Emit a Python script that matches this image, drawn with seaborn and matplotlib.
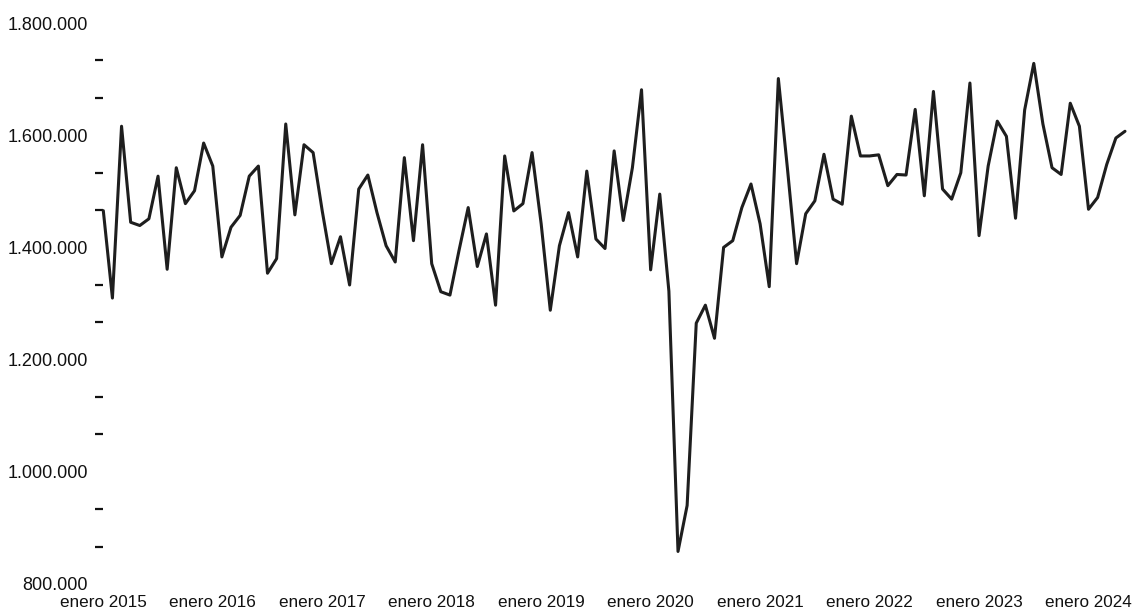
import numpy as np
import pandas as pd
import matplotlib
matplotlib.use("Agg")
import matplotlib.pyplot as plt
from matplotlib.ticker import FixedLocator, FuncFormatter
import seaborn as sns

# Monthly values, Jan 2015 - May 2024
v2015 = [1465500, 1309700, 1616000, 1444800, 1439000, 1451000,
         1527000, 1361000, 1542000, 1478000, 1501000, 1586000]
v2016 = [1545000, 1383000, 1436000, 1457000, 1527000, 1545000,
         1354000, 1380000, 1620000, 1458000, 1583000, 1569000]
v2017 = [1465000, 1371000, 1419000, 1333000, 1504000, 1529000,
         1462000, 1403000, 1374000, 1560000, 1412000, 1583000]
v2018 = [1371000, 1321000, 1315000, 1395000, 1471000, 1366000,
         1424000, 1297000, 1563000, 1465000, 1478000, 1569000]
v2019 = [1442000, 1288000, 1403000, 1462000, 1383000, 1536000,
         1415000, 1398000, 1572000, 1448000, 1542000, 1681000]
v2020 = [1360000, 1495000, 1322000, 858000, 940000, 1265000,
         1297000, 1238000, 1400000, 1412000, 1471000, 1513000]
v2021 = [1442000, 1330000, 1701000, 1540000, 1371000, 1460000,
         1483000, 1566000, 1486000, 1477000, 1634000, 1563000]
v2022 = [1563000, 1565000, 1510000, 1530000, 1529000, 1646000,
         1492000, 1678000, 1504000, 1486000, 1533000, 1693000]
v2023 = [1421000, 1545000, 1625000, 1598000, 1452000, 1645000,
         1728000, 1620000, 1542000, 1530000, 1657000, 1616000]
v2024 = [1468000, 1489000, 1548000, 1595000, 1607000]

years = list(range(2015, 2025))
tick_labels = [f"enero {y}" for y in years]
y_labels = [800000, 1000000, 1200000, 1400000, 1600000, 1800000]

values = v2015 + v2016 + v2017 + v2018 + v2019 + v2020 + v2021 + v2022 + v2023 + v2024
df = pd.DataFrame({"mes": np.arange(len(values)), "valor": values})

sns.set_style("white")
plt.rcParams["font.family"] = ["Liberation Sans", "DejaVu Sans"]

fig = plt.figure(figsize=(11.37, 6.09), dpi=100)
ax = fig.add_axes([103.3 / 1137, 1 - 584 / 609, (1125 - 103.3) / 1137, (584 - 23) / 609])

sns.lineplot(data=df, x="mes", y="valor", ax=ax, color="#1e1e1e", linewidth=2.2)
for line in ax.lines:
    line.set_clip_on(False)

ax.set_xlim(0, len(values) - 1)
ax.set_ylim(800000, 1800000)

ax.set_xticks(np.arange(0, len(values), 12))
ax.set_xticklabels(tick_labels)
ax.set_yticks(y_labels)
ax.yaxis.set_major_formatter(FuncFormatter(lambda v, p: f"{int(v):,}".replace(",", ".")))
minor = [y + k * 200000 / 3 for y in y_labels[:-1] for k in (1, 2)]
ax.yaxis.set_minor_locator(FixedLocator(minor))

ax.tick_params(axis="y", which="major", length=0, pad=11, labelsize=13, labelcolor="#111111")
ax.tick_params(axis="y", which="minor", length=6, width=1.6, color="#111111", direction="out", left=True)
ax.tick_params(axis="x", which="major", length=0, pad=8, labelsize=12.3, labelcolor="#111111")

ax.set_xlabel("")
ax.set_ylabel("")
sns.despine(ax=ax, left=True, bottom=True)

fig.savefig("out.png", dpi=100, facecolor="white")
